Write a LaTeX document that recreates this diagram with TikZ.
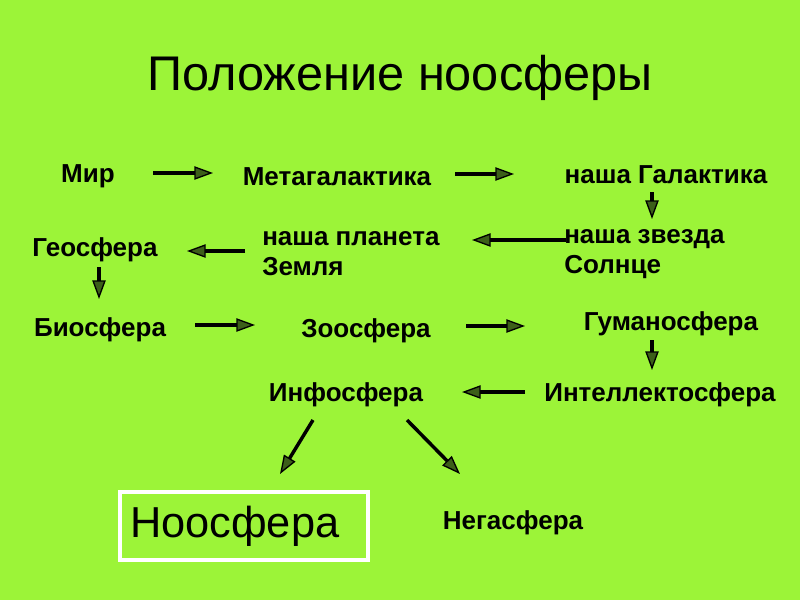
\documentclass[tikz,border=0pt]{standalone}
\usepackage{fontspec}
\setmainfont{Liberation Sans}
\usetikzlibrary{arrows.meta}
\definecolor{bg}{RGB}{156,244,56}
\definecolor{tipfill}{RGB}{60,95,25}
\begin{document}
\begin{tikzpicture}[x=0.75pt,y=-0.75pt,
  lbl/.style={font=\fontsize{19.5}{22.5}\selectfont\bfseries, inner sep=0pt, align=left},
  arr/.style={line width=2.6pt, -{Triangle[length=14pt,width=10pt,fill=tipfill,line width=1pt]}, draw=black}]
\fill[bg] (0,0) rectangle (800,600);
\useasboundingbox (0,0) rectangle (800,600);
\node[inner sep=0pt, font=\fontsize{36.5}{40}\selectfont] (title) at (400,78) {Положение ноосферы};
\node[lbl] (mir) at (88,176) {Мир};
\node[lbl] (meta) at (337,177) {Метагалактика};
\node[lbl] (gal) at (666,175) {наша Галактика};
\node[lbl, anchor=west, align=left] (zv) at (564,254) {наша звезда\\Солнце};
\node[lbl, anchor=west, align=left] (pl) at (262,254) {наша планета\\Земля};
\node[lbl] (geo) at (95,250) {Геосфера};
\node[lbl] (bio) at (100,330) {Биосфера};
\node[lbl] (zoo) at (366,331) {Зоосфера};
\node[lbl] (gum) at (671,324) {Гуманосфера};
\node[lbl] (int) at (660,395) {Интеллектосфера};
\node[lbl] (inf) at (346,395) {Инфосфера};
\node[lbl] (neg) at (513,523) {Негасфера};
\node[draw=white, line width=2.4pt, minimum width=186pt, minimum height=51pt, inner sep=0pt,
  font=\fontsize{32.5}{36}\selectfont] (noo) at (244,526) {\hspace*{-14pt}\raisebox{-2pt}{Ноосфера}};
\coordinate (a1s) at (153,173); \coordinate (a1e) at (213,173);
\draw[arr] (a1s) -- (a1e);
\coordinate (a2s) at (455,174); \coordinate (a2e) at (514,174);
\draw[arr] (a2s) -- (a2e);
\coordinate (a3s) at (652,192); \coordinate (a3e) at (652,219);
\draw[arr] (a3s) -- (a3e);
\coordinate (a4s) at (566,240); \coordinate (a4e) at (472,240);
\draw[arr] (a4s) -- (a4e);
\coordinate (a5s) at (245,251); \coordinate (a5e) at (187,251);
\draw[arr] (a5s) -- (a5e);
\coordinate (a6s) at (99,267); \coordinate (a6e) at (99,299);
\draw[arr] (a6s) -- (a6e);
\coordinate (a7s) at (195,325); \coordinate (a7e) at (255,325);
\draw[arr] (a7s) -- (a7e);
\coordinate (a8s) at (466,326); \coordinate (a8e) at (525,326);
\draw[arr] (a8s) -- (a8e);
\coordinate (a9s) at (652,340); \coordinate (a9e) at (652,370);
\draw[arr] (a9s) -- (a9e);
\coordinate (a10s) at (525,392); \coordinate (a10e) at (462,392);
\draw[arr] (a10s) -- (a10e);
\coordinate (a11s) at (313,420); \coordinate (a11e) at (280,474);
\draw[arr] (a11s) -- (a11e);
\coordinate (a12s) at (407,420); \coordinate (a12e) at (460,474);
\draw[arr] (a12s) -- (a12e);
\end{tikzpicture}
\end{document}
